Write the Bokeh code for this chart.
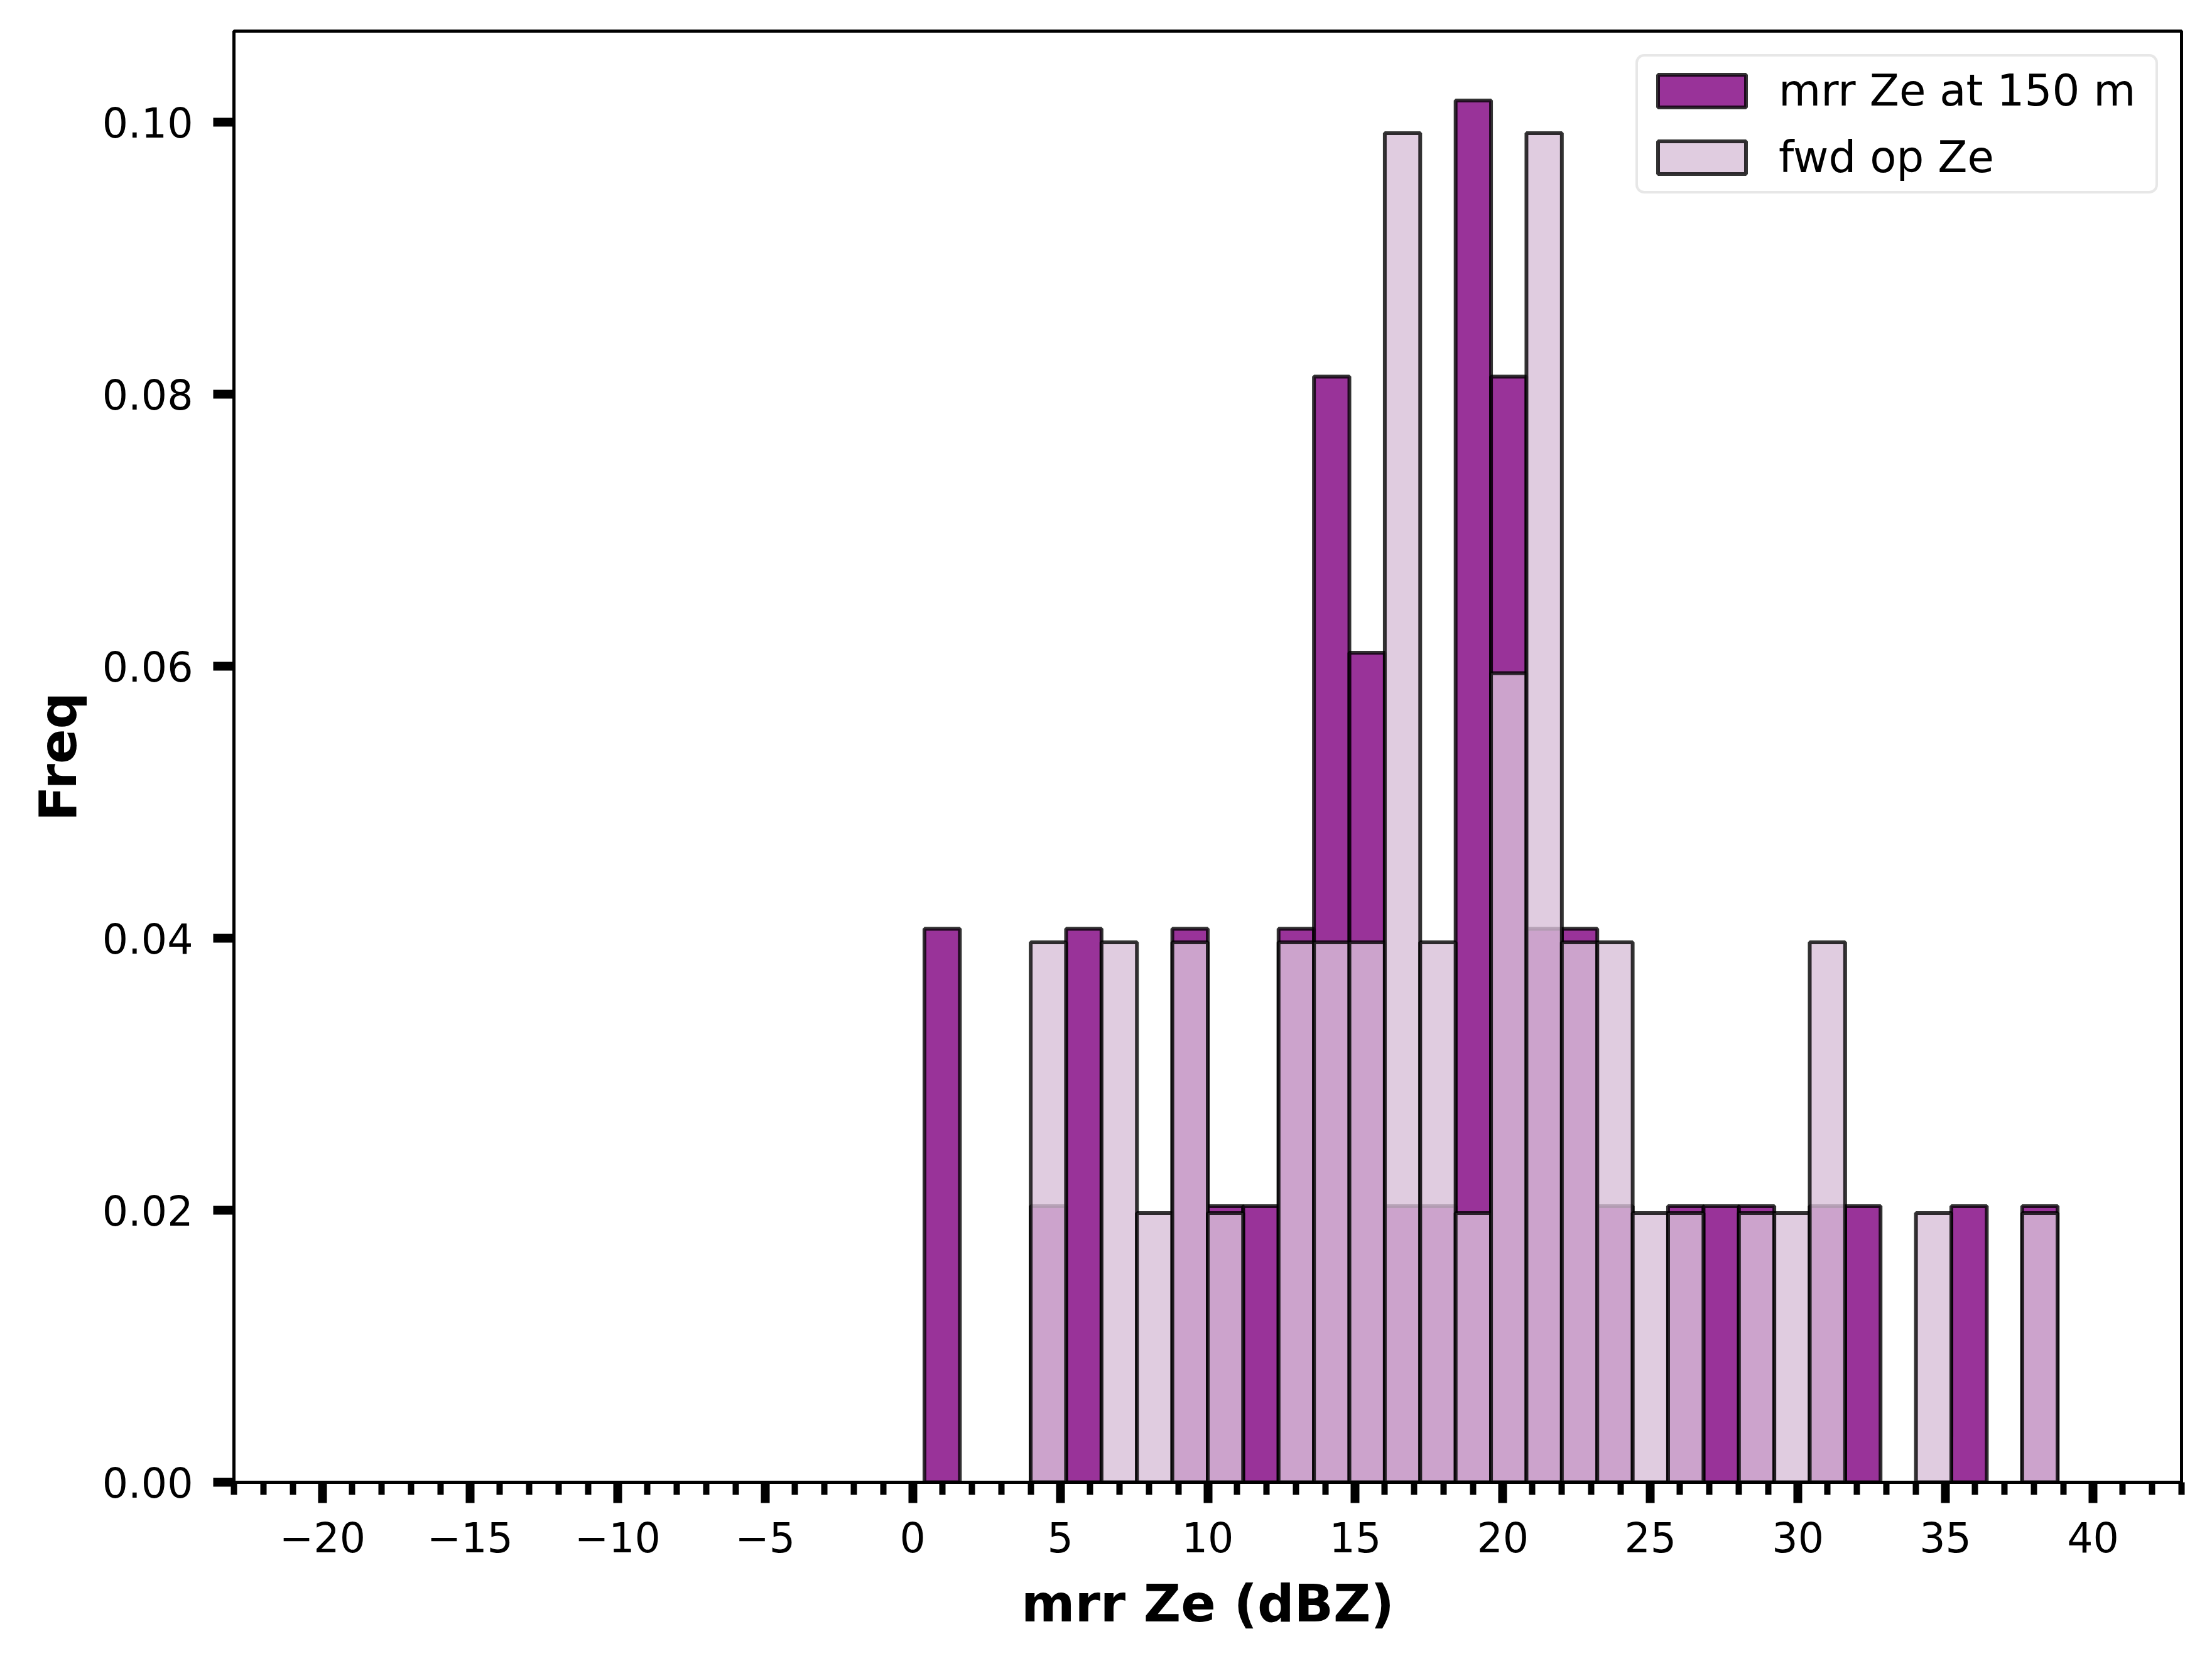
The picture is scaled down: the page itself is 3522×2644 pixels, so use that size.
from bokeh.plotting import figure
from bokeh.models import (Range1d, FixedTicker, CustomJSTickFormatter, Legend,
                          LegendItem, ColumnDataSource)
from bokeh.embed import file_html
from bokeh.resources import INLINE

# ---- data (histogram, bin width 1.2 dBZ, density) ----
bin_width = 1.2
bin_left = [0.4, 1.6, 2.8, 4.0, 5.2, 6.4, 7.6, 8.8, 10.0, 11.2, 12.4, 13.6,
            14.8, 16.0, 17.2, 18.4, 19.6, 20.8, 22.0, 23.2, 24.4, 25.6, 26.8,
            28.0, 29.2, 30.4, 31.6, 32.8, 34.0, 35.2, 36.4, 37.6, 38.8]
mrr_freq = [0.0407, 0, 0, 0.0203, 0.0407, 0, 0, 0.0407, 0.0203, 0.0203,
            0.0407, 0.0813, 0.0610, 0.0203, 0.0203, 0.1016, 0.0813, 0.0407,
            0.0407, 0.0203, 0, 0.0203, 0.0203, 0.0203, 0, 0.0203, 0.0203,
            0, 0, 0.0203, 0, 0.0203, 0]
fwd_freq = [0, 0, 0, 0.0397, 0, 0.0397, 0.0198, 0.0397, 0.0198, 0,
            0.0397, 0.0397, 0.0397, 0.0992, 0.0397, 0.0198, 0.0595, 0.0992,
            0.0397, 0.0397, 0.0198, 0.0198, 0, 0.0198, 0.0198, 0.0397, 0,
            0, 0.0198, 0, 0, 0.0198, 0]
x_major = [-20, -15, -10, -5, 0, 5, 10, 15, 20, 25, 30, 35, 40]
y_major = [0.0, 0.02, 0.04, 0.06, 0.08, 0.10]
series_labels = ["mrr Ze at 150 m", "fwd op Ze"]

def nonzero(freq):
    l = [b for b, f in zip(bin_left, freq) if f > 0]
    t = [f for f in freq if f > 0]
    return ColumnDataSource(dict(left=l, right=[v + bin_width for v in l],
                                 top=t, bottom=[0] * len(t)))

W, H = 3506, 2628
p = figure(width=W, height=H, output_backend="svg", toolbar_location=None,
           x_range=Range1d(-23, 43), y_range=Range1d(0, 0.10671),
           min_border_left=372, min_border_right=33, min_border_top=49,
           min_border_bottom=269)
p.xgrid.visible = False
p.ygrid.visible = False
p.background_fill_color = "white"
p.border_fill_color = "white"
p.outline_line_color = "black"
p.outline_line_width = 5

r1 = p.quad(left="left", right="right", top="top", bottom="bottom",
            source=nonzero(mrr_freq), fill_color="purple", fill_alpha=0.8,
            line_color="black", line_alpha=0.8, line_width=6)
r2 = p.quad(left="left", right="right", top="top", bottom="bottom",
            source=nonzero(fwd_freq), fill_color="thistle", fill_alpha=0.8,
            line_color="black", line_alpha=0.8, line_width=6)

FONT = "DejaVu Sans"
for ax in (p.xaxis[0], p.yaxis[0]):
    ax.axis_line_width = 5
    ax.axis_line_color = "black"
    ax.major_tick_line_width = 14
    ax.major_tick_out = 33
    ax.major_tick_in = 0
    ax.major_label_text_font = FONT
    ax.major_label_text_font_size = "65px"
    ax.major_label_text_color = "black"
    ax.axis_label_text_font = FONT
    ax.axis_label_text_font_size = "82px"
    ax.axis_label_text_font_style = "bold"
    ax.axis_label_text_color = "black"

xa = p.xaxis[0]
xa.ticker = FixedTicker(ticks=x_major, minor_ticks=list(range(-23, 44)))
xa.minor_tick_out = 20
xa.minor_tick_in = 0
xa.minor_tick_line_width = 10
xa.minor_tick_line_color = "black"
xa.major_label_standoff = 29
xa.axis_label = "mrr Ze (dBZ)"
xa.axis_label_standoff = 31
xa.formatter = CustomJSTickFormatter(
    code="return tick < 0 ? '\u2212' + Math.abs(tick) : String(tick);")

ya = p.yaxis[0]
ya.ticker = FixedTicker(ticks=y_major, minor_ticks=[])
ya.minor_tick_line_color = None
ya.major_label_standoff = 32
ya.axis_label = "Freq"
ya.axis_label_standoff = 20
ya.formatter = CustomJSTickFormatter(code="return tick.toFixed(2);")

legend = Legend(items=[LegendItem(label=series_labels[0], renderers=[r1]),
                       LegendItem(label=series_labels[1], renderers=[r2])],
                location="top_right")
legend.label_text_font = FONT
legend.label_text_font_size = "69px"
legend.label_text_color = "black"
legend.glyph_width = 175
legend.glyph_height = 65
legend.label_height = 78
legend.label_width = 586
legend.label_standoff = 35
legend.spacing = 26
legend.padding = 14
legend.margin = 37
legend.border_line_color = "#d0d0d0"
legend.border_line_width = 4
legend.background_fill_alpha = 0.8
try:
    legend.border_radius = 14
except Exception:
    pass
p.add_layout(legend)

open("out.html", "w").write(file_html(p, INLINE))
